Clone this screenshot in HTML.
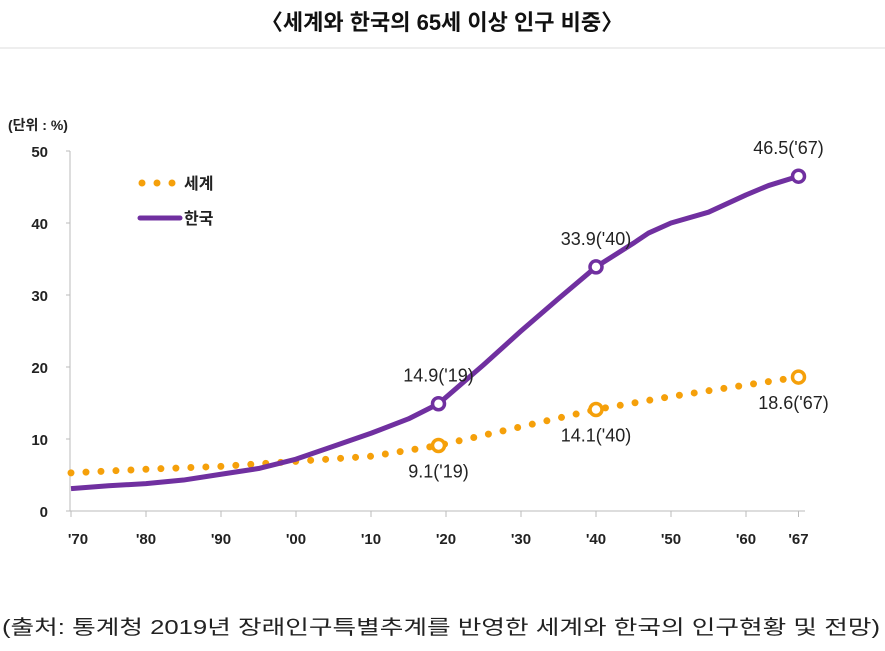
<!DOCTYPE html>
<html><head><meta charset="utf-8"><style>
body{margin:0;background:#fff;width:885px;height:646px;overflow:hidden;font-family:"Liberation Sans","Noto Sans CJK KR",sans-serif;}
svg text{font-family:"Liberation Sans","Noto Sans CJK KR",sans-serif;}
</style></head><body>
<svg width="885" height="646">
<text x="442" y="30" text-anchor="middle" font-size="22" font-weight="bold" fill="#111">〈세계와 한국의 65세 이상 인구 비중〉</text>
<line x1="0" y1="48" x2="885" y2="48" stroke="#ddd"/>
<text x="8" y="130" font-size="14" font-weight="bold" fill="#222">(단위 : %)</text>
<g id="axes"></g>
<g id="series"></g>
<g>
<g>
<circle cx="142" cy="183" r="3.5" fill="#f5a00a"/><circle cx="157" cy="183" r="3.5" fill="#f5a00a"/><circle cx="172" cy="183" r="3.5" fill="#f5a00a"/>
<text x="184" y="189" font-size="16" font-weight="bold" fill="#222">세계</text></g>
<g>
<line x1="140" y1="218" x2="180" y2="218" stroke="#7030a0" stroke-width="5" stroke-linecap="round"/>
<text x="184" y="224" font-size="16" font-weight="bold" fill="#222">한국</text></g>
</g>
<text x="2" y="634" font-size="20" textLength="878" lengthAdjust="spacingAndGlyphs" fill="#222">(출처: 통계청 2019년 장래인구특별추계를 반영한 세계와 한국의 인구현황 및 전망)</text>
</svg>
<script>
const yTicks=[0,10,20,30,40,50];
const xTickYears=[1970,1980,1990,2000,2010,2020,2030,2040,2050,2060,2067];
const xTickLabels=["'70","'80","'90","'00","'10","'20","'30","'40","'50","'60","'67"];
const koreaYears=[1970,1975,1980,1985,1990,1995,2000,2005,2010,2015,2019,2025,2030,2035,2040,2045,2047,2050,2055,2060,2063,2067];
const koreaValues=[3.1,3.5,3.8,4.3,5.1,5.9,7.2,9.0,10.8,12.8,14.9,20.3,25,29.5,33.9,37.2,38.6,40,41.5,43.9,45.2,46.5];
const worldYears=[1970,1980,1990,2000,2010,2019,2030,2040,2050,2060,2067];
const worldValues=[5.3,5.8,6.2,6.9,7.6,9.1,11.7,14.1,15.9,17.5,18.6];
const highlights=[["korea",2019,14.9,"14.9('19)"],["korea",2040,33.9,"33.9('40)"],["korea",2067,46.5,"46.5('67)"],["world",2019,9.1,"9.1('19)"],["world",2040,14.1,"14.1('40)"],["world",2067,18.6,"18.6('67)"]];
const NS="http://www.w3.org/2000/svg";
const X=y=>446+(y-2020)*7.5, Y=v=>511-v*7.2;
function mk(tag,at,parent){const e=document.createElementNS(NS,tag);for(const k in at)e.setAttribute(k,at[k]);parent.appendChild(e);return e;}
const ax=document.getElementById('axes'),se=document.getElementById('series');
let l=mk('line',{x1:70,y1:Y(50),x2:70,y2:511,stroke:'#bbb'},ax);


l=mk('line',{x1:70,y1:511,x2:805,y2:511,stroke:'#bbb'},ax);


yTicks.forEach(v=>{mk('line',{x1:66,x2:70,y1:Y(v),y2:Y(v),stroke:'#bbb'},ax);
const t=mk('text',{x:48,y:Y(v)+6,'text-anchor':'end','font-size':15,'font-weight':'bold',fill:'#222'},ax);t.textContent=v;

});
xTickYears.forEach((yr,i)=>{mk('line',{x1:X(yr),x2:X(yr),y1:511,y2:517,stroke:'#bbb'},ax);
const t=mk('text',{x:i==0?78:X(yr),y:544,'text-anchor':'middle','font-size':15,'font-weight':'bold',fill:'#222'},ax);t.textContent=xTickLabels[i];

});
const pts=(ys,vs)=>ys.map((y,i)=>X(y)+','+Y(vs[i])).join(' ');
let w=mk('polyline',{points:pts(worldYears,worldValues),fill:'none',stroke:'#f5a00a','stroke-width':7,'stroke-linecap':'round','stroke-dasharray':'0 15'},se);


let k=mk('polyline',{points:pts(koreaYears,koreaValues),fill:'none',stroke:'#7030a0','stroke-width':5,'stroke-linejoin':'round'},se);


highlights.forEach(h=>{const c=h[0]=='korea'?'#7030a0':'#f5a00a';
const m=mk('circle',{cx:X(h[1]),cy:Y(h[2]),r:6,fill:'#fff',stroke:c,'stroke-width':3.5},se);


let dy=h[0]=='korea'?-22:32;
const t=mk('text',{x:X(h[1])+(h[1]==2067?(h[0]=='korea'?-10:-5):0),y:Y(h[2])+dy,'text-anchor':'middle','font-size':18,fill:'#222'},se);t.textContent=h[3];

});
</script>
</body></html>
